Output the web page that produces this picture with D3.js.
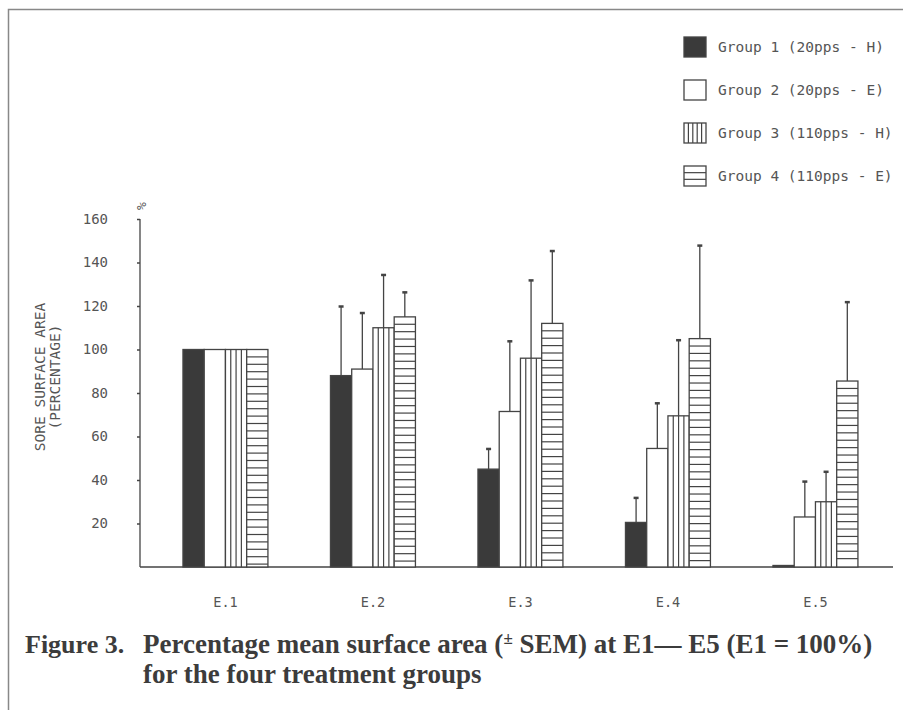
<!DOCTYPE html>
<html>
<head>
<meta charset="utf-8">
<script src="https://cdn.jsdelivr.net/npm/d3@7"></script>
<style>
  body { margin: 0; background: #fff; }
  svg { display: block; }
  .plot { font-family: "DejaVu Sans Mono", monospace; fill: #555; }
</style>
</head>
<body>
<svg width="903" height="710"></svg>
<script>
// data
let sessions = ["E.1", "E.2", "E.3", "E.4", "E.5"];
let groups = ["Group 1 (20pps - H)", "Group 2 (20pps - E)", "Group 3 (110pps - H)", "Group 4 (110pps - E)"];
let meanG1 = [100, 88, 45, 20.5, 0.7];
let meanG2 = [100, 91, 71.5, 54.5, 23];
let meanG3 = [100, 110, 96, 69.5, 30];
let meanG4 = [100, 115, 112, 105, 85.5];
// top of the +SEM bar (mean + SEM); E.1 has none
let semTopG1 = [null, 120, 54.5, 32, null];
let semTopG2 = [null, 117, 104, 75.5, 39.5];
let semTopG3 = [null, 134.5, 132, 104.5, 44];
let semTopG4 = [null, 126.5, 145.5, 148, 122];
let yTicks = [20, 40, 60, 80, 100, 120, 140, 160];

let means = [meanG1, meanG2, meanG3, meanG4];
let tops = [semTopG1, semTopG2, semTopG3, semTopG4];

let rows = [];
sessions.forEach((s, i) => {
    groups.forEach((g, j) => {
        rows.push({ s: s, g: j, v: means[j][i], top: tops[j][i] });
    });
});

let svg = d3.select("svg");
let ink = "#444";

// frame lines of the scanned page
svg.append("path")
    .attr("d", "M8.5,710 V9.5 H903")
    .attr("fill", "none")
    .attr("stroke", "#888")
    .attr("stroke-width", 1.5);

let y = d3.scaleLinear().domain([0, 160]).range([567, 219]);
let x = d3.scaleBand().domain(sessions).range([151.7, 889.2])
    .paddingInner(0.424).paddingOuter(0.212);
let xg = d3.scaleBand().domain(d3.range(groups.length)).range([0, x.bandwidth()]);

let plot = svg.append("g").attr("class", "plot");

// y axis
let yAxis = plot.append("g")
    .attr("transform", "translate(140,0)")
    .call(d3.axisLeft(y).tickValues(yTicks).tickSize(3).tickPadding(29));
yAxis.select(".domain").remove();
yAxis.selectAll(".tick line").attr("stroke", ink).attr("stroke-width", 1.5);
yAxis.selectAll(".tick text")
    .attr("font-family", "DejaVu Sans Mono, monospace")
    .attr("font-size", 14)
    .attr("fill", "#555");

plot.append("line")
    .attr("x1", 140).attr("x2", 140)
    .attr("y1", y(0)).attr("y2", y(160))
    .attr("stroke", ink).attr("stroke-width", 1.3);
plot.append("line")
    .attr("x1", 140).attr("x2", 893)
    .attr("y1", y(0)).attr("y2", y(0))
    .attr("stroke", ink).attr("stroke-width", 1.3);

plot.append("text")
    .attr("transform", `translate(141,${y(160) - 13}) rotate(-90)`)
    .attr("text-anchor", "middle")
    .attr("dominant-baseline", "central")
    .attr("font-size", 13)
    .text("%");

// y label
let ylab = plot.append("text")
    .attr("transform", "translate(40,377) rotate(-90)")
    .attr("text-anchor", "middle")
    .attr("font-size", 14.5);
ylab.append("tspan").attr("x", 0).attr("dy", "0.35em").text("SORE SURFACE AREA");
ylab.append("tspan").attr("x", 0).attr("dy", 15).text("(PERCENTAGE)");

// category labels
plot.selectAll(".cat")
    .data(sessions)
    .join("text")
    .attr("class", "cat")
    .attr("x", d => x(d) + x.bandwidth() / 2)
    .attr("y", 602)
    .attr("text-anchor", "middle")
    .attr("dominant-baseline", "central")
    .attr("font-size", 13.5)
    .text(d => d);

// bars
let bars = plot.selectAll(".bar")
    .data(rows)
    .join("g")
    .attr("class", "bar")
    .attr("transform", d => `translate(${x(d.s) + xg(d.g)},0)`);

bars.append("rect")
    .attr("x", 0)
    .attr("y", d => y(d.v))
    .attr("width", xg.bandwidth())
    .attr("height", d => y(0) - y(d.v))
    .attr("fill", d => d.g === 0 ? "#3a3a3a" : "#fff")
    .attr("stroke", ink)
    .attr("stroke-width", 1.3);

// vertical hatching, group 3
bars.filter(d => d.g === 2)
    .selectAll("line")
    .data(d => [1, 2, 3].map(k => ({ k: k, v: d.v })))
    .join("line")
    .attr("x1", d => xg.bandwidth() * d.k / 4)
    .attr("x2", d => xg.bandwidth() * d.k / 4)
    .attr("y1", d => y(d.v))
    .attr("y2", y(0))
    .attr("stroke", ink)
    .attr("stroke-width", 1.2);

// horizontal hatching, group 4
let hStep = 7.4;
bars.filter(d => d.g === 3)
    .selectAll("line")
    .data(d => d3.range(y(d.v) + hStep, y(0) - 2, hStep))
    .join("line")
    .attr("x1", 0)
    .attr("x2", xg.bandwidth())
    .attr("y1", d => d)
    .attr("y2", d => d)
    .attr("stroke", ink)
    .attr("stroke-width", 1.2);

// +SEM bars
let errs = bars.filter(d => d.top !== null);
errs.append("line")
    .attr("x1", xg.bandwidth() / 2)
    .attr("x2", xg.bandwidth() / 2)
    .attr("y1", d => y(d.v))
    .attr("y2", d => y(d.top))
    .attr("stroke", ink)
    .attr("stroke-width", 1.3);
errs.append("line")
    .attr("x1", xg.bandwidth() / 2 - 2.5)
    .attr("x2", xg.bandwidth() / 2 + 2.5)
    .attr("y1", d => y(d.top) + 0.5)
    .attr("y2", d => y(d.top) + 0.5)
    .attr("stroke", ink)
    .attr("stroke-width", 2.5);

// legend
let legend = plot.selectAll(".leg")
    .data(groups)
    .join("g")
    .attr("class", "leg")
    .attr("transform", (d, i) => `translate(684,${37 + i * 43})`);

legend.append("rect")
    .attr("width", 22).attr("height", 20)
    .attr("fill", (d, i) => i === 0 ? "#3a3a3a" : "#fff")
    .attr("stroke", ink)
    .attr("stroke-width", 1.3);
legend.filter((d, i) => i === 2)
    .selectAll("line")
    .data([1, 2, 3, 4])
    .join("line")
    .attr("x1", k => k * 22 / 5).attr("x2", k => k * 22 / 5)
    .attr("y1", 0).attr("y2", 20)
    .attr("stroke", ink).attr("stroke-width", 1.2);
legend.filter((d, i) => i === 3)
    .selectAll("line")
    .data([1, 2])
    .join("line")
    .attr("x1", 0).attr("x2", 22)
    .attr("y1", k => k * 20 / 3).attr("y2", k => k * 20 / 3)
    .attr("stroke", ink).attr("stroke-width", 1.2);
legend.append("text")
    .attr("x", 34)
    .attr("y", 10)
    .attr("dominant-baseline", "central")
    .attr("font-size", 14.5)
    .text(d => d);

// caption
let cap = svg.append("g")
    .attr("font-family", "Liberation Serif, serif")
    .attr("font-weight", "bold")
    .attr("font-size", 27)
    .attr("fill", "#3c3c3c");
cap.append("text").attr("x", 25).attr("y", 653).attr("font-size", 26).text("Figure 3.");
let l1 = cap.append("text").attr("x", 143).attr("y", 653);
l1.append("tspan").text("Percentage mean surface area (");
l1.append("tspan").attr("font-size", 17).attr("dy", -9).text("±");
l1.append("tspan").attr("dy", 9).text(" SEM) at E1— E5 (E1 = 100%)");
cap.append("text").attr("x", 143).attr("y", 683).text("for the four treatment groups");
</script>
</body>
</html>
